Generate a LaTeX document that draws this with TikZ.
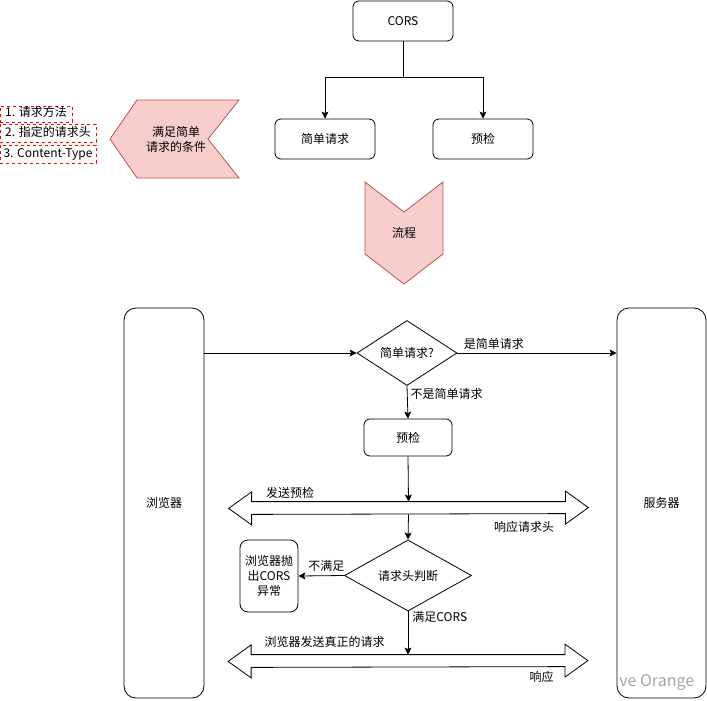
\documentclass[tikz,border=0pt]{standalone}
\usepackage{fontspec}
\setmainfont{Noto Sans CJK SC}
\usetikzlibrary{positioning,arrows.meta,calc,shapes.geometric}
\definecolor{chevFill}{HTML}{F8CECC}
\definecolor{chevDraw}{HTML}{B85450}
\definecolor{listRed}{HTML}{FF0000}
\definecolor{markGray}{RGB}{165,165,165}

\begin{document}
\begin{tikzpicture}[
    x=1pt, y=-1pt,
    line width=0.8pt,
    font=\fontsize{12}{15}\selectfont,
    >={Stealth[length=7pt,width=7pt,inset=1.5pt]},
    box/.style={rectangle, rounded corners=6pt, draw, minimum width=100pt, minimum height=40pt, inner sep=2pt},
    side box/.style={rectangle, rounded corners=12pt, draw, minimum height=390pt, inner sep=2pt},
    decision/.style={diamond, draw, inner sep=0pt},
    list item/.style={rectangle, draw=listRed, dashed, line width=0.7pt, text height=9pt, text depth=3pt, inner sep=1pt},
    chevron/.style={fill=chevFill, draw=chevDraw},
    dbl/.style={rectangle, minimum width=313pt, minimum height=12pt, inner sep=0pt},
    lbl/.style={inner sep=1pt}
]
  \useasboundingbox (0,0) rectangle (707,701);

  % top part
  \node[box] (cors) at (403,21) {CORS};
  \node[box] (simple) at (325,139) {简单请求};
  \node[box] (preflight) at (483,139) {预检};

  \draw[->] (cors.south) -- ++(0,36) -| (simple.north);
  \draw[->] (cors.south) -- ++(0,36) -| (preflight.north);

  % conditions
  \draw[chevron] (239,100) -- (137,100) -- (110,139) -- (137,178) -- (239,178) -- (208,139) -- cycle;
  \node[align=center] (cond) at (176,139) {满足简单\\请求的条件};

  \node[list item, minimum width=72pt, minimum height=16pt] (item1) at (36,114) {1. 请求方法};
  \node[list item, minimum width=96pt, minimum height=18pt] (item2) at (48,133) {2. 指定的请求头};
  \node[list item, minimum width=96pt, minimum height=18pt] (item3) at (48,154) {3. Content-Type};

  % flow
  \draw[chevron] (365,182) -- (404,212) -- (443,182) -- (443,254) -- (404,284) -- (365,254) -- cycle;
  \node (flow) at (404,233) {流程};

  \node[side box, minimum width=80pt] (browser) at (164,503) {浏览器};
  \node[side box, minimum width=89pt] (server) at (661.5,503) {服务器};

  \node[decision, minimum width=100pt, minimum height=65pt] (isSimple) at (407,353) {简单请求?};
  \node[box, minimum width=88pt, minimum height=37pt] (check) at (408,437.5) {预检};

  \node[dbl] (arr1) at (408.5,508) {};
  \node[decision, minimum width=127pt, minimum height=55pt] (headers) at (408,575.5) {请求头判断};
  \node[box, rounded corners=8pt, minimum width=58pt, minimum height=72pt, align=center] (err) at (269,576) {浏览器抛\\出CORS\\异常};
  \node[dbl] (arr2) at (408,661) {};

  \foreach \a in {arr1,arr2}
    \draw (\a.north west) -- (\a.north east) -- ++(0,-10.5) -- ++(23,16.5) -- ++(-23,16.5) -- ++(0,-10.5)
      -- (\a.south west) -- ++(0,10.5) -- ++(-23,-16.5) -- ++(23,-16.5) -- cycle;

  \draw[->] (browser.east |- isSimple.west) -- (isSimple.west);
  \draw[->] (isSimple.east) -- (server.west |- isSimple.east)
    node[lbl, pos=0, anchor=south west, xshift=5pt, yshift=2pt] {是简单请求};
  \draw[->] (isSimple.south) -- (check.north)
    node[lbl, pos=0.25, anchor=west, xshift=2pt] {不是简单请求};
  \draw[->] (check.south) -- (arr1.north);
  \draw[->] (arr1.south) -- (headers.north);
  \draw[->] (headers.west) -- (err.east)
    node[lbl, midway, above, xshift=5pt, yshift=3pt] {不满足};
  \draw[->] (headers.south) -- (arr2.north)
    node[lbl, pos=0.12, anchor=west, xshift=3pt] {满足CORS};

  \node[lbl, anchor=west] (sendCheck) at ([shift={(13,-9)}]arr1.north west) {发送预检};
  \node[lbl, anchor=east] (respHeaders) at ([shift={(-10,13)}]arr1.south east) {响应请求头};
  \node[lbl, anchor=west] (sendReal) at ([shift={(12,-13)}]arr2.north west) {浏览器发送真正的请求};
  \node[lbl, anchor=east] (resp) at ([shift={(-10,10)}]arr2.south east) {响应};

  \node[lbl, anchor=west, text=markGray, font=\fontsize{16}{18}\selectfont] (mark) at (618,683) {ve Orange};
\end{tikzpicture}
\end{document}
